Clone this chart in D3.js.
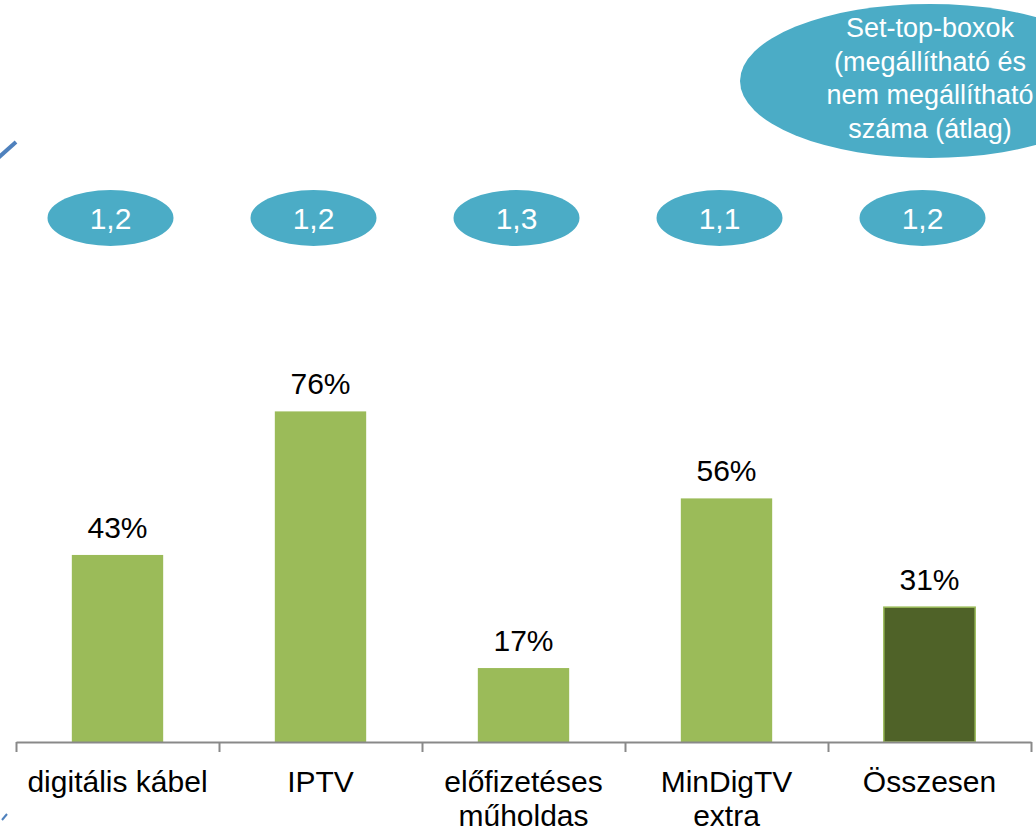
<!DOCTYPE html>
<html>
<head>
<meta charset="utf-8">
<script src="https://cdn.jsdelivr.net/npm/d3@7"></script>
<style>
  body { margin: 0; background: #fff; }
  svg { display: block; font-family: "Liberation Sans", Arial, sans-serif; }
</style>
</head>
<body>
<div id="chart"></div>
<script>
// categories (multi-line labels)
const categories = ["digitális kábel", "IPTV", "előfizetéses műholdas", "MinDigTV extra", "Összesen"];
const labelLines = [["digitális kábel"], ["IPTV"], ["előfizetéses", "műholdas"], ["MinDigTV", "extra"], ["Összesen"]];
const shares = [43, 76, 17, 56, 31];
const boxes = ["1,2", "1,2", "1,3", "1,1", "1,2"];
const boxTitle = ["Set-top-boxok", "(megállítható és", "nem megállítható", "száma (átlag)"];

const width = 1036, height = 832;
const axisY = 742;

const svg = d3.select("#chart").append("svg")
    .attr("width", width)
    .attr("height", height);

let x = d3.scaleBand()
    .domain(categories)
    .range([16, 1031])
    .paddingInner(0.55)
    .paddingOuter(0.275);

let y = d3.scaleLinear()
    .domain([0, 100])
    .range([axisY, 307]);

// bars
svg.selectAll(".bar")
    .data(shares)
    .enter()
    .append("rect")
    .attr("class", "bar")
    .attr("x", (d, i) => x(categories[i]))
    .attr("y", d => y(d))
    .attr("width", x.bandwidth())
    .attr("height", d => y(0) - y(d))
    .attr("fill", (d, i) => i == shares.length - 1 ? "#4F6228" : "#9BBB59")
    .attr("stroke", (d, i) => i == shares.length - 1 ? "#9BBB59" : "none")
    .attr("stroke-width", 1.5);

// value labels
svg.selectAll(".val")
    .data(shares)
    .enter()
    .append("text")
    .attr("class", "val")
    .attr("x", (d, i) => x(categories[i]) + x.bandwidth() / 2)
    .attr("y", d => y(d) - 17)
    .attr("text-anchor", "middle")
    .attr("font-size", 30)
    .attr("fill", "#000")
    .text(d => d + "%");

// axis with ticks on category boundaries
let edge = d3.scaleLinear().domain([0, categories.length]).range([16, 1031]);
let axis = svg.append("g")
    .attr("transform", "translate(0," + axisY + ")")
    .call(d3.axisBottom(edge)
        .tickValues(d3.range(categories.length + 1))
        .tickFormat("")
        .tickSize(10)
        .tickSizeOuter(0));
axis.select(".domain").attr("stroke", "#898989").attr("stroke-width", 2);
axis.selectAll(".tick line").attr("stroke", "#898989").attr("stroke-width", 2);

// category labels
let cat = svg.selectAll(".cat")
    .data(labelLines)
    .enter()
    .append("text")
    .attr("class", "cat")
    .attr("text-anchor", "middle")
    .attr("font-size", 30)
    .attr("fill", "#000");
cat.selectAll("tspan")
    .data((d, i) => d.map(t => ({ t: t, i: i })))
    .enter()
    .append("tspan")
    .attr("x", d => x(categories[d.i]) + x.bandwidth() / 2)
    .attr("y", (d, j) => 792 + j * 34)
    .text(d => d.t);

// set-top-box average ellipses
let bubble = svg.selectAll(".bubble")
    .data(boxes)
    .enter()
    .append("g")
    .attr("class", "bubble")
    .attr("transform", (d, i) => "translate(" + (x(categories[i]) + x.bandwidth() / 2 - 7) + ",218)");
bubble.append("ellipse")
    .attr("rx", 63)
    .attr("ry", 28)
    .attr("fill", "#4BACC6");
bubble.append("text")
    .attr("text-anchor", "middle")
    .attr("y", 11)
    .attr("font-size", 30)
    .attr("fill", "#fff")
    .text(d => d);

// big title ellipse
let title = svg.append("g").attr("transform", "translate(930,81)");
title.append("ellipse")
    .attr("rx", 190)
    .attr("ry", 77)
    .attr("fill", "#4BACC6");
title.append("text")
    .attr("text-anchor", "middle")
    .attr("font-size", 27)
    .attr("fill", "#fff")
    .selectAll("tspan")
    .data(boxTitle)
    .enter()
    .append("tspan")
    .attr("x", 0)
    .attr("y", (d, i) => -44 + i * 33.7)
    .text(d => d);

// stray connector fragments from the slide
svg.append("line")
    .attr("x1", -2).attr("y1", 158).attr("x2", 16).attr("y2", 142)
    .attr("stroke", "#4F81BD").attr("stroke-width", 4);
svg.append("line")
    .attr("x1", 2).attr("y1", 820).attr("x2", 7).attr("y2", 814)
    .attr("stroke", "#4F81BD").attr("stroke-width", 2);
</script>
</body>
</html>
